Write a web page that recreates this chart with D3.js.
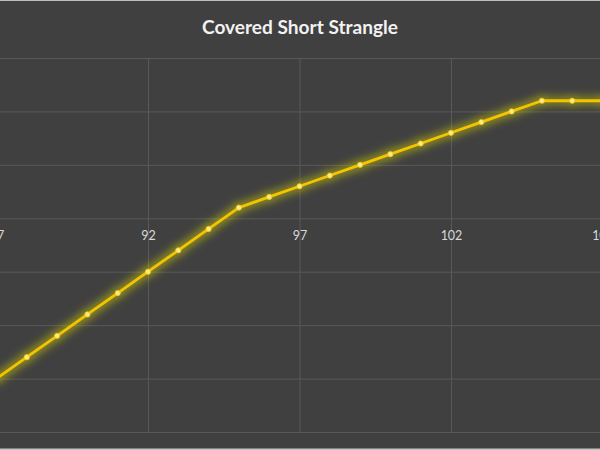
<!DOCTYPE html>
<html>
<head>
<meta charset="utf-8">
<script src="https://cdn.jsdelivr.net/npm/d3@7"></script>
<style>
  body { margin: 0; background: #404040; }
  #graf { width: 600px; height: 450px; }
</style>
</head>
<body>
<div id="graf"></div>
<script>
// Datos
precios = [87, 88, 89, 90, 91, 92, 93, 94, 95, 96, 97, 98, 99, 100, 101, 102, 103, 104, 105, 106, 107]
ganancia = [-15, -13, -11, -9, -7, -5, -3, -1, 1, 2, 3, 4, 5, 6, 7, 8, 9, 10, 11, 11, 11]
xTicks = [87, 92, 97, 102, 107]
yTicks = [-20, -15, -10, -5, 0, 5, 10, 15]
titulo = 'Covered Short Strangle'

// Configuracion
ancho_total = 600
alto_total = 450

svg = d3.select('#graf').append('svg')
        .attr('width', ancho_total)
        .attr('height', alto_total)

defs = svg.append('defs')
glow = defs.append('filter').attr('id', 'glow')
        .attr('x', '-20%').attr('y', '-20%').attr('width', '140%').attr('height', '140%')
glow.append('feMorphology').attr('in', 'SourceAlpha').attr('operator', 'dilate').attr('radius', 1.5).attr('result', 'd')
glow.append('feGaussianBlur').attr('in', 'd').attr('stdDeviation', 4).attr('result', 'b')
glow.append('feFlood').attr('flood-color', '#d8d400').attr('flood-opacity', 0.6)
glow.append('feComposite').attr('in2', 'b').attr('operator', 'in').attr('result', 'g')
m = glow.append('feMerge')
m.append('feMergeNode').attr('in', 'g')
m.append('feMergeNode').attr('in', 'SourceGraphic')

svg.append('rect')
        .attr('width', ancho_total).attr('height', alto_total)
        .attr('fill', '#404040')

// Escaladores (el grafico esta recortado: 87 y 107 quedan en el borde)
x = d3.scaleLinear().domain([92, 102]).range([148, 451])
y = d3.scaleLinear().domain([-20, 15]).range([432, 58])

// Rejilla
svg.append('g').selectAll('line')
        .data(yTicks)
        .join('line')
        .attr('x1', 0).attr('x2', ancho_total)
        .attr('y1', d => y(d) + 0.5).attr('y2', d => y(d) + 0.5)
        .attr('stroke', '#595959').attr('stroke-width', 1)

svg.append('g').selectAll('line')
        .data(xTicks)
        .join('line')
        .attr('x1', d => x(d) + 0.5).attr('x2', d => x(d) + 0.5)
        .attr('y1', y(15)).attr('y2', y(-20))
        .attr('stroke', '#595959').attr('stroke-width', 1)

// Eje X (cruza en 0)
xAxisGroup = svg.append('g')
        .attr('transform', `translate(0, ${y(0)})`)
        .call(d3.axisBottom(x).tickValues(xTicks).tickSize(0).tickPadding(13).tickFormat(d3.format('d')))
xAxisGroup.select('.domain').remove()
xAxisGroup.selectAll('text')
        .attr('fill', '#d9d9d9')
        .style('font-family', 'Lato, "Open Sans", sans-serif')
        .style('font-size', '12.5px')

// Linea
valueline = d3.line()
        .x((d, i) => x(precios[i]))
        .y(d => y(d))

serie = svg.append('g').attr('filter', 'url(#glow)')

serie.append('path')
        .datum(ganancia)
        .attr('fill', 'none')
        .attr('stroke', '#f5c400')
        .attr('stroke-width', 2.8)
        .attr('stroke-linejoin', 'round')
        .attr('d', valueline)

serie.selectAll('circle')
        .data(ganancia)
        .join('circle')
        .attr('cx', (d, i) => x(precios[i]))
        .attr('cy', d => y(d))
        .attr('r', 2.6)
        .attr('fill', '#fde98f')
        .attr('stroke', '#f5c400')
        .attr('stroke-width', 0.8)

// Titulo
svg.append('text')
        .attr('x', 300).attr('y', 34)
        .attr('text-anchor', 'middle')
        .attr('fill', '#f2f2f2')
        .attr('textLength', 196)
        .attr('lengthAdjust', 'spacingAndGlyphs')
        .style('font-family', 'Lato, "Open Sans", sans-serif')
        .style('font-weight', 'bold')
        .style('font-size', '19.5px')
        .text(titulo)

// bordes claros de la captura
svg.append('rect').attr('x', 0).attr('y', 0).attr('width', ancho_total).attr('height', 1).attr('fill', '#bdbdbd')
svg.append('rect').attr('x', 0).attr('y', 448.5).attr('width', ancho_total).attr('height', 1.5).attr('fill', '#c4c4c4')
</script>
</body>
</html>
